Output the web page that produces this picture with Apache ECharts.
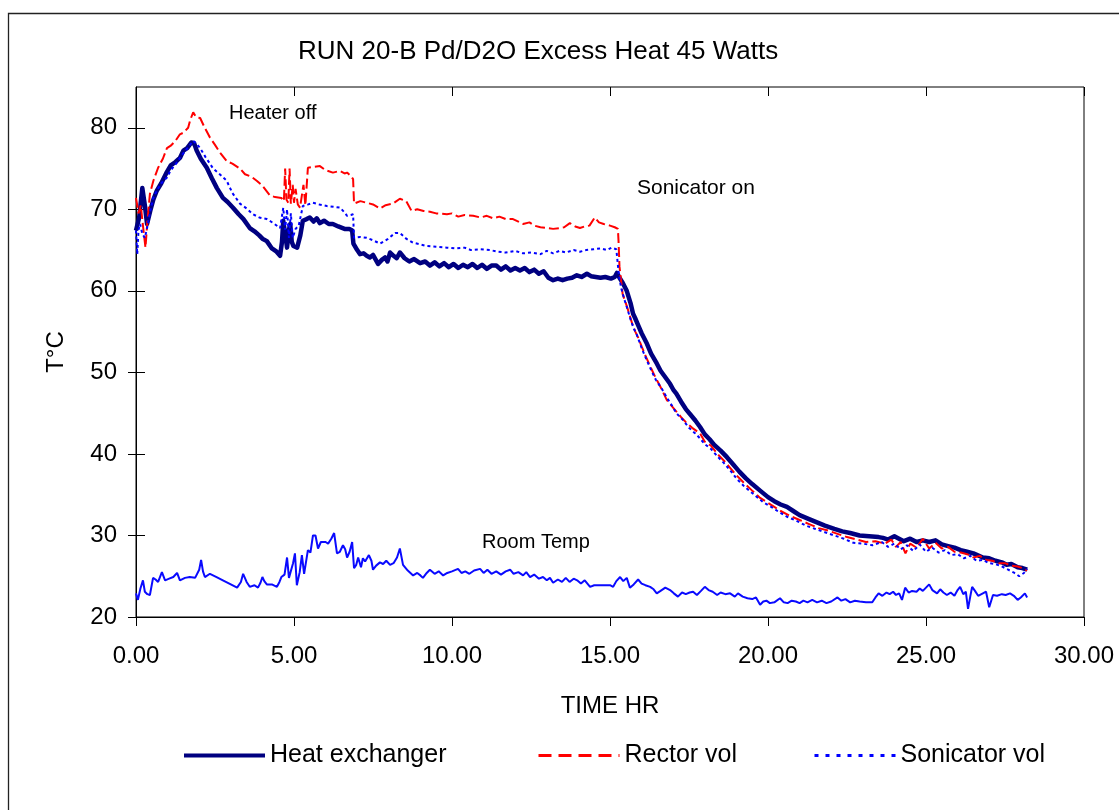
<!DOCTYPE html>
<html>
<head>
<meta charset="utf-8">
<title>RUN 20-B Pd/D2O Excess Heat 45 Watts</title>
<script src="https://cdn.jsdelivr.net/npm/echarts@6/dist/echarts.min.js"></script>
<style>
  html, body { margin: 0; padding: 0; background: #fff; }
  #chart { width: 1119px; height: 810px; }
</style>
</head>
<body>
<div id="chart"></div>
<script>
// Temperatures (°C) against elapsed time (hours), run 20-B.
const heatExchanger = [
  [0,67.4],[0.1,69.0],[0.2,72.6],[0.28,70.5],[0.35,68.2],[0.45,69.8],[0.55,71.2],[0.66,72.3],[0.8,73.2],[0.98,74.6],
  [1.1,75.4],[1.25,75.8],[1.39,76.3],[1.5,77.2],[1.62,77.5],[1.75,78.2],[1.84,78.1],[1.92,77.2],[2.05,76.2],[2.24,75.1],
  [2.4,73.8],[2.56,72.6],[2.75,71.4],[2.9,70.9],[3.07,70.2],[3.25,69.4],[3.4,68.8],[3.6,67.7],[3.75,67.3],[3.9,66.8],
  [4.0,66.4],[4.14,66.1],[4.3,65.2],[4.45,64.8],[4.56,64.3],[4.62,66.0],[4.66,68.6],[4.72,67.0],[4.78,65.3],[4.84,67.5],
  [4.88,68.2],[4.93,66.0],[4.98,65.5],[5.1,65.3],[5.2,66.8],[5.28,68.6],[5.4,68.8],[5.5,69.0],[5.62,68.5],[5.72,68.9],
  [5.82,68.3],[5.95,68.6],[6.1,68.2],[6.23,68.2],[6.4,67.9],[6.6,67.6],[6.75,67.6],[6.84,67.4],[6.88,65.8],[7.0,65.0],
  [7.09,64.5],[7.2,64.6],[7.3,64.3],[7.4,64.1],[7.5,64.4],[7.66,63.3],[7.78,63.8],[7.88,64.1],[7.96,63.6],[8.04,64.7],
  [8.15,64.3],[8.25,64.0],[8.35,64.7],[8.5,64.0],[8.65,63.6],[8.8,63.9],[8.99,63.4],[9.15,63.6],[9.3,63.1],[9.45,63.5],
  [9.6,63.0],[9.75,63.4],[9.9,62.9],[10.05,63.3],[10.2,62.8],[10.35,63.2],[10.5,62.9],[10.65,63.3],[10.8,62.8],[10.95,63.2],
  [11.1,62.7],[11.25,63.1],[11.4,63.1],[11.55,62.6],[11.7,63.0],[11.85,62.5],[12.0,62.8],[12.15,62.5],[12.3,62.8],[12.45,62.3],
  [12.6,62.6],[12.75,62.1],[12.9,62.4],[13.05,61.6],[13.2,61.3],[13.35,61.5],[13.5,61.3],[13.65,61.5],[13.8,61.6],[13.95,61.9],
  [14.1,61.7],[14.27,62.1],[14.4,61.8],[14.55,61.7],[14.7,61.6],[14.85,61.7],[15.03,61.5],[15.15,61.7],[15.22,62.2],[15.3,61.6],
  [15.4,61.0],[15.53,60.0],[15.65,58.5],[15.73,57.2],[15.79,56.7],[15.9,55.7],[16.0,54.8],[16.17,53.5],[16.3,52.3],[16.48,51.1],
  [16.6,50.2],[16.75,49.4],[16.9,48.6],[17.0,47.9],[17.1,47.4],[17.25,46.4],[17.4,45.5],[17.55,44.8],[17.7,44.1],[17.85,43.3],
  [18.0,42.4],[18.15,41.8],[18.3,41.1],[18.5,40.4],[18.7,39.6],[18.9,38.7],[19.1,37.8],[19.3,37.0],[19.5,36.3],[19.75,35.5],
  [20.0,34.7],[20.2,34.2],[20.4,33.8],[20.6,33.5],[20.8,33.0],[21.0,32.5],[21.3,32.0],[21.55,31.6],[21.8,31.2],[22.1,30.8],
  [22.35,30.5],[22.6,30.3],[22.9,30.0],[23.2,29.9],[23.5,29.8],[23.64,29.7],[23.8,29.5],[24.0,29.9],[24.1,29.7],[24.3,29.3],
  [24.5,29.6],[24.7,29.2],[24.9,29.4],[25.1,29.2],[25.3,29.4],[25.5,28.9],[25.7,28.7],[25.9,28.5],[26.1,28.2],[26.3,28.0],
  [26.5,27.8],[26.8,27.3],[27.0,27.2],[27.2,26.9],[27.4,26.7],[27.55,26.4],[27.7,26.5],[27.9,26.1],[28.05,26.0],[28.2,25.8]
];

const rectorVol = [
  [0,71.4],[0.08,69.5],[0.15,70.5],[0.22,68.0],[0.3,65.3],[0.36,68.5],[0.44,71.9],[0.55,73.5],[0.7,75.1],[0.85,76.2],
  [0.98,77.5],[1.1,77.8],[1.25,78.4],[1.39,79.2],[1.5,79.4],[1.65,80.0],[1.72,81.0],[1.81,81.9],[1.9,81.3],[2.03,81.2],
  [2.15,80.2],[2.34,78.8],[2.5,77.9],[2.65,77.0],[2.87,75.9],[3.05,75.6],[3.29,75.0],[3.45,74.3],[3.65,74.0],[3.82,73.5],
  [4.0,72.9],[4.24,71.7],[4.4,71.5],[4.6,71.4],[4.68,71.0],[4.72,75.0],[4.76,71.2],[4.82,70.8],[4.86,75.0],[4.9,70.7],
  [4.96,73.0],[5.0,70.8],[5.05,72.5],[5.12,70.6],[5.19,70.2],[5.3,73.0],[5.36,70.5],[5.44,75.1],[5.6,75.2],[5.82,75.3],
  [6.0,74.8],[6.23,74.5],[6.45,74.7],[6.6,74.4],[6.68,74.5],[6.8,74.1],[6.87,73.7],[6.9,70.7],[7.1,71.0],[7.3,70.8],
  [7.5,70.6],[7.72,70.1],[7.9,70.5],[8.13,70.7],[8.35,71.3],[8.55,71.0],[8.72,69.8],[8.9,70.0],[9.1,69.8],[9.3,69.7],
  [9.5,69.5],[9.84,69.4],[10.0,69.5],[10.2,69.1],[10.4,69.3],[10.67,69.2],[10.9,69.0],[11.1,69.2],[11.3,68.9],[11.5,69.1],
  [11.7,68.8],[11.93,68.8],[12.1,68.5],[12.25,68.2],[12.45,68.4],[12.6,68.0],[12.8,67.8],[13.0,67.7],[13.2,67.6],[13.4,67.7],
  [13.55,67.8],[13.73,68.3],[13.9,67.9],[14.05,67.7],[14.2,67.9],[14.35,68.0],[14.52,69.0],[14.65,68.4],[14.8,68.2],[15.0,68.0],
  [15.15,67.8],[15.25,67.6],[15.27,66.1],[15.3,63.0],[15.4,59.6],[15.5,58.5],[15.6,57.3],[15.7,56.0],[15.8,55.0],[15.9,54.2],
  [16.0,53.2],[16.15,51.8],[16.3,50.5],[16.45,49.3],[16.6,48.2],[16.8,46.6],[16.95,45.9],[17.1,45.2],[17.25,44.5],[17.4,43.9],
  [17.6,43.2],[17.85,42.5],[18.0,41.5],[18.2,41.0],[18.4,40.0],[18.6,39.2],[18.8,38.3],[19.0,37.4],[19.25,36.4],[19.5,35.5],
  [19.75,34.6],[20.0,34.0],[20.2,33.5],[20.4,33.0],[20.7,32.4],[21.0,31.9],[21.3,31.4],[21.6,30.9],[21.9,30.6],[22.2,30.2],
  [22.5,29.8],[22.8,29.5],[23.1,29.2],[23.4,29.3],[23.7,29.0],[23.9,29.5],[24.05,28.6],[24.2,29.2],[24.35,27.8],[24.5,29.0],
  [24.7,28.5],[24.9,29.6],[25.1,28.4],[25.3,29.1],[25.5,28.4],[25.7,28.6],[25.9,28.0],[26.1,27.9],[26.3,27.7],[26.5,27.3],
  [26.7,27.5],[26.9,27.0],[27.1,26.9],[27.3,26.6],[27.5,26.6],[27.7,26.3],[27.9,26.2],[28.05,26.0],[28.2,25.7]
];

const sonicatorVol = [
  [0,67.4],[0.04,64.5],[0.08,67.5],[0.13,68.2],[0.2,67.0],[0.28,66.5],[0.35,67.7],[0.45,69.8],[0.55,71.4],[0.66,72.3],
  [0.8,73.2],[0.98,73.9],[1.1,74.8],[1.25,75.5],[1.39,76.3],[1.5,76.9],[1.65,77.6],[1.81,78.4],[1.92,78.0],[2.03,77.5],
  [2.2,76.4],[2.44,75.0],[2.65,74.3],[2.87,73.5],[3.05,72.0],[3.29,70.7],[3.5,70.1],[3.7,69.4],[3.9,69.0],[4.14,68.8],
  [4.35,68.3],[4.56,67.7],[4.66,70.2],[4.72,67.5],[4.78,70.0],[4.84,66.5],[4.9,69.5],[4.96,66.5],[5.05,67.6],[5.15,68.0],
  [5.28,70.4],[5.45,70.6],[5.6,70.8],[5.8,70.6],[6.04,70.4],[6.25,70.3],[6.46,70.2],[6.6,69.6],[6.68,69.2],[6.8,69.3],
  [6.87,69.4],[6.9,66.5],[7.1,66.6],[7.3,66.5],[7.5,66.2],[7.72,65.8],[7.95,66.3],[8.2,67.1],[8.35,67.1],[8.55,66.4],
  [8.77,65.9],[9.0,65.7],[9.2,65.5],[9.5,65.4],[9.84,65.3],[10.1,65.2],[10.4,65.3],[10.6,65.0],[10.9,65.1],[11.2,65.0],
  [11.45,64.8],[11.7,64.7],[12.0,64.9],[12.25,64.6],[12.5,64.7],[12.8,64.5],[13.0,64.9],[13.2,64.6],[13.4,64.9],[13.6,64.7],
  [13.85,65.0],[14.05,64.8],[14.25,65.0],[14.47,65.1],[14.7,65.2],[14.9,65.0],[15.05,65.3],[15.2,65.1],[15.26,65.1],[15.28,62.0],
  [15.35,60.4],[15.45,59.0],[15.55,57.8],[15.65,56.5],[15.75,55.4],[15.85,54.6],[16.0,53.0],[16.15,51.6],[16.3,50.3],[16.45,49.1],
  [16.64,48.0],[16.8,46.9],[16.95,46.0],[17.1,45.0],[17.3,44.2],[17.5,43.2],[17.7,42.5],[17.85,41.9],[18.0,41.2],[18.2,40.6],
  [18.4,39.7],[18.6,38.9],[18.8,38.0],[19.0,37.0],[19.25,36.0],[19.5,35.2],[19.84,34.1],[20.1,33.5],[20.3,33.0],[20.6,32.3],
  [20.9,31.8],[21.2,31.2],[21.5,30.8],[21.8,30.4],[22.1,30.0],[22.4,29.6],[22.7,29.1],[23.0,29.0],[23.3,28.8],[23.6,29.2],
  [23.8,28.6],[24.0,29.0],[24.2,28.3],[24.4,28.8],[24.6,28.1],[24.8,28.9],[25.0,28.0],[25.2,28.5],[25.4,27.9],[25.6,28.2],
  [25.8,27.6],[26.0,27.7],[26.2,27.2],[26.4,27.5],[26.6,26.9],[26.8,27.0],[27.0,26.6],[27.2,26.5],[27.4,26.2],[27.6,25.8],
  [27.8,25.4],[27.95,25.0],[28.1,25.4],[28.2,25.9]
];

const roomTemp = [
  [0,22.9],[0.06,22.1],[0.14,23.5],[0.22,24.5],[0.28,23.1],[0.36,22.8],[0.44,22.7],[0.54,24.8],[0.62,24.6],[0.7,24.3],
  [0.82,25.5],[0.92,24.5],[1.05,24.7],[1.18,24.9],[1.3,25.4],[1.39,24.5],[1.55,24.8],[1.7,24.9],[1.87,24.8],[2.0,25.8],
  [2.06,27.0],[2.12,25.6],[2.18,24.9],[2.34,25.3],[2.55,24.9],[2.75,24.5],[3.0,24.0],[3.2,23.6],[3.32,24.3],[3.39,25.3],
  [3.5,24.3],[3.6,23.7],[3.75,23.9],[3.86,23.6],[3.94,24.2],[4.0,24.9],[4.06,24.4],[4.14,24.0],[4.3,24.0],[4.46,23.7],
  [4.54,24.3],[4.6,24.9],[4.7,25.2],[4.78,27.3],[4.84,24.8],[4.9,24.6],[4.97,26.6],[5.03,27.8],[5.09,23.9],[5.18,25.5],
  [5.25,27.6],[5.32,25.3],[5.44,28.2],[5.52,27.9],[5.6,30.0],[5.68,30.0],[5.76,28.4],[5.85,29.2],[5.92,29.2],[6.0,29.2],
  [6.08,29.0],[6.18,29.6],[6.27,30.3],[6.36,27.8],[6.45,28.0],[6.55,28.8],[6.62,28.3],[6.68,27.3],[6.76,28.0],[6.84,29.2],
  [6.9,26.0],[6.97,26.4],[7.03,27.3],[7.12,26.1],[7.18,27.2],[7.25,26.8],[7.37,27.6],[7.45,26.9],[7.5,25.8],[7.6,26.3],
  [7.72,26.7],[7.82,26.5],[7.92,26.9],[8.04,26.4],[8.15,26.6],[8.26,27.3],[8.35,28.4],[8.45,26.4],[8.6,25.7],[8.77,25.1],
  [8.9,25.4],[9.0,25.1],[9.08,24.8],[9.2,25.4],[9.3,25.8],[9.45,25.3],[9.58,25.6],[9.72,25.1],[9.85,25.4],[10.0,25.6],
  [10.19,25.9],[10.3,25.4],[10.42,25.6],[10.55,25.3],[10.7,25.7],[10.89,25.9],[11.0,25.4],[11.12,25.8],[11.25,25.3],[11.4,25.6],
  [11.55,25.2],[11.7,25.6],[11.84,25.8],[11.95,25.3],[12.1,25.5],[12.25,25.1],[12.35,25.5],[12.47,24.9],[12.6,25.2],[12.75,24.7],
  [12.88,24.9],[13.0,24.5],[13.1,24.8],[13.2,24.2],[13.35,24.6],[13.48,24.3],[13.6,24.8],[13.72,24.3],[13.85,24.7],[13.96,24.5],
  [14.08,24.1],[14.2,24.5],[14.37,23.7],[14.5,23.9],[14.65,23.9],[14.8,23.9],[15.0,23.9],[15.1,23.7],[15.2,24.4],[15.32,24.9],
  [15.42,24.4],[15.53,24.8],[15.63,23.6],[15.75,24.0],[15.89,24.6],[16.0,24.1],[16.12,23.9],[16.27,23.7],[16.38,23.4],[16.48,22.9],
  [16.6,23.2],[16.75,23.6],[16.9,23.3],[17.02,22.9],[17.15,22.5],[17.28,23.0],[17.4,22.8],[17.52,23.0],[17.63,23.1],[17.75,22.7],
  [17.88,23.2],[18.0,23.7],[18.12,23.3],[18.25,23.1],[18.39,22.7],[18.5,23.0],[18.65,22.8],[18.8,22.9],[18.95,22.5],[19.05,22.9],
  [19.2,22.5],[19.35,22.3],[19.5,22.2],[19.62,22.4],[19.75,21.5],[19.85,21.9],[19.95,22.0],[20.06,21.7],[20.2,21.8],[20.38,22.3],
  [20.5,21.8],[20.62,21.7],[20.75,22.0],[20.88,21.9],[21.0,21.7],[21.12,22.0],[21.25,21.8],[21.4,22.1],[21.55,21.8],[21.7,22.0],
  [21.85,21.7],[22.0,21.9],[22.2,22.4],[22.32,22.0],[22.45,22.2],[22.6,21.8],[22.75,22.0],[22.9,21.9],[23.1,21.8],[23.3,21.8],
  [23.4,22.4],[23.5,22.9],[23.62,22.6],[23.75,23.0],[23.85,22.8],[23.96,23.1],[24.05,22.7],[24.15,22.9],[24.24,22.1],[24.34,23.6],
  [24.45,23.0],[24.56,23.2],[24.7,23.1],[24.8,23.5],[24.9,23.2],[25.0,23.6],[25.1,24.0],[25.2,23.3],[25.35,22.9],[25.45,23.4],
  [25.55,23.0],[25.66,22.7],[25.78,23.0],[25.9,22.6],[26.0,23.3],[26.08,23.7],[26.18,22.8],[26.26,23.1],[26.33,21.0],[26.4,22.5],
  [26.46,23.7],[26.55,23.2],[26.65,22.6],[26.8,22.9],[26.9,23.1],[27.0,21.2],[27.12,22.7],[27.25,22.6],[27.4,22.8],[27.52,22.7],
  [27.66,22.9],[27.78,22.6],[27.9,22.1],[28.0,22.4],[28.13,22.9],[28.2,22.4]
];

const yTickValues = [20, 30, 40, 50, 60, 70, 80];
const seriesNames = ['Heat exchanger', 'Rector vol', 'Sonicator vol', 'Room Temp'];
const chartTitle = 'RUN 20-B Pd/D2O Excess Heat 45 Watts';
const notes = ['Heater off', 'Sonicator on', 'Room Temp'];

const FONT = '"Liberation Sans", Arial, Helvetica, sans-serif';
const chart = echarts.init(document.getElementById('chart'), null, { renderer: 'canvas' });

const baseX = { type: 'value', min: 0, max: 30, interval: 5, gridIndex: 0 };
const baseY = { type: 'value', min: 20, max: 85, interval: 10, gridIndex: 0, position: 'left' };

const lineSeries = (name, data, style, z) => ({
  name, type: 'line', data, showSymbol: false, symbol: 'none',
  xAxisIndex: 0, yAxisIndex: 0, z,
  lineStyle: style, itemStyle: { color: style.color },
  emphasis: { disabled: true }, animation: false
});

const legendText = { fontFamily: FONT, fontSize: 25, color: '#000' };
// legend entries show only the line sample, no marker
const legendBase = { top: 743, padding: 0, itemWidth: 81, itemHeight: 24, textStyle: legendText,
  itemStyle: { opacity: 0 } };

chart.setOption({
  backgroundColor: '#fff',
  animation: false,
  title: {
    text: chartTitle, left: 293, top: 34,
    textStyle: { fontFamily: FONT, fontSize: 26, fontWeight: 'normal', color: '#000' }
  },
  grid: {
    left: 136, top: 87, right: 35, bottom: 193,
    show: true, borderColor: '#000', borderWidth: 1, backgroundColor: 'transparent'
  },
  legend: [
    Object.assign({}, legendBase, { data: [seriesNames[0]], left: 182, lineStyle: { width: 4 } }),
    Object.assign({}, legendBase, { data: [seriesNames[1]], left: 537, lineStyle: { width: 3, type: [13, 7] } }),
    Object.assign({}, legendBase, { data: [seriesNames[2]], left: 813, lineStyle: { width: 3, type: [4, 7] } })
  ],
  xAxis: [
    Object.assign({}, baseX, {
      name: 'TIME HR', nameLocation: 'middle', nameGap: 77,
      nameTextStyle: { fontFamily: FONT, fontSize: 24, color: '#000' },
      axisLine: { show: true, onZero: false, lineStyle: { color: '#000', width: 1 } },
      axisTick: { show: true, inside: false, length: 9, lineStyle: { color: '#000' } },
      axisLabel: { margin: 27, fontFamily: FONT, fontSize: 24, color: '#000',
        formatter: v => v.toFixed(2) },
      splitLine: { show: false }
    }),
    Object.assign({}, baseX, {
      axisLine: { show: false },
      axisTick: { show: true, inside: true, length: 9, lineStyle: { color: '#000' } },
      axisLabel: { show: false }, splitLine: { show: false }
    })
  ],
  yAxis: [
    Object.assign({}, baseY, {
      name: 'T°C', nameLocation: 'middle', nameGap: 68, nameRotate: 90,
      nameTextStyle: { fontFamily: FONT, fontSize: 24, color: '#000' },
      axisLine: { show: true, onZero: false, lineStyle: { color: '#000', width: 1 } },
      axisTick: { show: true, inside: false, length: 8, customValues: yTickValues, lineStyle: { color: '#000' } },
      axisLabel: { margin: 19, fontFamily: FONT, fontSize: 24, color: '#000', customValues: yTickValues },
      splitLine: { show: false }
    }),
    Object.assign({}, baseY, {
      axisLine: { show: false },
      axisTick: { show: true, inside: true, length: 9, customValues: yTickValues, lineStyle: { color: '#000' } },
      axisLabel: { show: false }, splitLine: { show: false }
    })
  ],
  graphic: [
    { type: 'rect', silent: true, z: -10,
      shape: { x: 8.5, y: 13.5, width: 1300, height: 1000 },
      style: { fill: 'none', stroke: '#222', lineWidth: 1.3 } },
    { type: 'text', left: 229, top: 103, silent: true,
      style: { text: notes[0], font: '20px ' + FONT, fill: '#000' } },
    { type: 'text', left: 637, top: 178, silent: true,
      style: { text: notes[1], font: '21px ' + FONT, fill: '#000' } },
    { type: 'text', left: 482, top: 532, silent: true,
      style: { text: notes[2], font: '20px ' + FONT, fill: '#000' } }
  ],
  series: [
    lineSeries(seriesNames[0], heatExchanger, { color: '#000080', width: 4.5, type: 'solid', join: 'round' }, 3),
    lineSeries(seriesNames[1], rectorVol, { color: '#FF0000', width: 2, type: [10, 4] }, 4),
    lineSeries(seriesNames[2], sonicatorVol, { color: '#0000FF', width: 2, type: [3, 3] }, 5),
    lineSeries(seriesNames[3], roomTemp, { color: '#0A0AFF', width: 2, type: 'solid' }, 2)
  ]
});
</script>
</body>
</html>
